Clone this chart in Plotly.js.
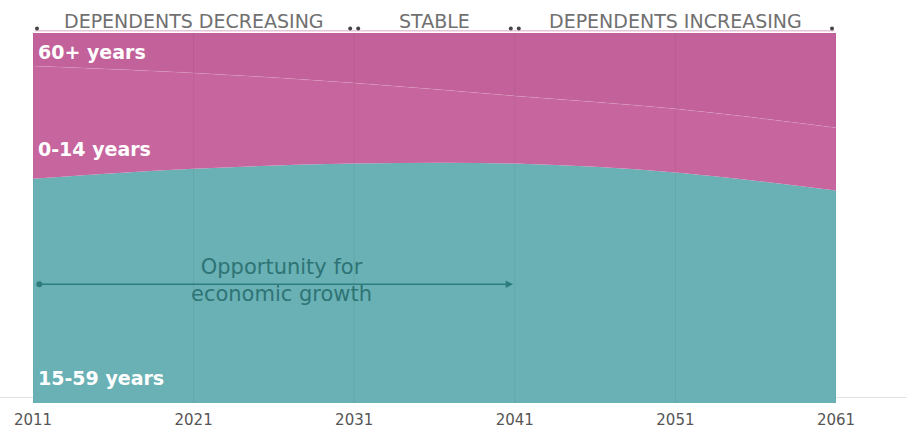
<!DOCTYPE html>
<html>
<head>
<meta charset="utf-8">
<script src="https://cdn.plot.ly/plotly-3.0.1.min.js"></script>
<style>html,body{margin:0;padding:0;background:#fff;}#chart{width:907px;height:432px;}</style>
</head>
<body>
<div id="chart"></div>
<script>
const years = [2011, 2021, 2031, 2041, 2051, 2061];
const working = [60.6, 63.3, 64.7, 64.7, 62.3, 57.4];   // 15-59 years (%)
const children = [30.5, 25.9, 21.8, 18.3, 17.2, 17.0];  // 0-14 years (%)
const elderly = [8.9, 10.8, 13.5, 17.0, 20.5, 25.6];    // 60+ years (%)
const tickLabels = ['2011', '2021', '2031', '2041', '2051', '2061'];
const phases = [
  {label: 'DEPENDENTS DECREASING', from: 2011, to: 2031},
  {label: 'STABLE', from: 2031, to: 2041},
  {label: 'DEPENDENTS INCREASING', from: 2041, to: 2061}
];

const teal = '#69b1b5', pink = '#c7659e', pinkDark = '#c2619a';
const FONT = '"DejaVu Sans", sans-serif';

const traces = [
  {x: years, y: working, name: '15-59 years', stackgroup: 'a', mode: 'lines',
   line: {width: 0, shape: 'spline', color: teal}, fillcolor: teal},
  {x: years, y: children, name: '0-14 years', stackgroup: 'a', mode: 'lines',
   line: {width: 0, shape: 'spline', color: pink}, fillcolor: pink},
  {x: years, y: elderly, name: '60+ years', stackgroup: 'a', mode: 'lines',
   line: {width: 0, shape: 'spline', color: pinkDark}, fillcolor: pinkDark}
];

// faint boundary line between 0-14 and 60+
const boundary = years.map((y, i) => working[i] + children[i]);
traces.push({x: years, y: boundary, mode: 'lines', hoverinfo: 'skip', showlegend: false,
  line: {width: 1, shape: 'spline', color: 'rgba(255,255,255,0.1)'}});

const shapes = [];
years.forEach(yr => {
  shapes.push({type: 'line', xref: 'x', yref: 'paper', x0: yr, x1: yr, y0: 0, y1: 1,
    line: {color: 'rgba(60,60,60,0.07)', width: 1}, layer: 'above'});
});
// base line
shapes.push({type: 'line', xref: 'paper', yref: 'paper', x0: -0.05, x1: 1.09, y0: 0.015, y1: 0.015,
  line: {color: '#e2e2e2', width: 1}, layer: 'below'});
// header line
shapes.push({type: 'line', xref: 'x', yref: 'paper', x0: 2011.1, x1: 2060.9, y0: 1.006, y1: 1.006,
  line: {color: '#e8c6da', width: 1.5}});
const dots = [];
phases.forEach(p => { dots.push({x: p.from, dx: 4}); dots.push({x: p.to, dx: -4}); });
dots.forEach(d => {
  shapes.push({type: 'circle', xref: 'x', yref: 'paper', xsizemode: 'pixel', ysizemode: 'pixel',
    xanchor: d.x, yanchor: 1.012, x0: d.dx - 2, x1: d.dx + 2, y0: -2, y1: 2,
    fillcolor: '#444', line: {width: 0}});
});

const annotations = [];
phases.forEach(p => {
  annotations.push({x: (p.from + p.to) / 2, y: 1.0, xref: 'x', yref: 'paper', yanchor: 'bottom', yshift: -1,
    text: p.label, showarrow: false, font: {family: FONT, size: 19, color: '#707070'}});
});
const lab = (t, y) => ({x: 2011, y: y, xref: 'x', yref: 'y', xanchor: 'left', xshift: 3, text: '<b>' + t + '</b>',
  showarrow: false, font: {family: FONT, size: 19, color: '#ffffff'}});
annotations.push(lab('60+ years', 95.0));
annotations.push(lab('0-14 years', 68.7));
annotations.push(lab('15-59 years', 6.7));
// arrow
annotations.push({x: 2040.9, y: 32.1, ax: 2011.3, ay: 32.1, xref: 'x', yref: 'y', axref: 'x', ayref: 'y',
  text: '', showarrow: true, arrowhead: 2, arrowsize: 1, arrowwidth: 1.5, arrowcolor: '#2f7c7d',
  arrowside: 'end+start', startarrowhead: 6, startarrowsize: 1});
annotations.push({x: 2026.5, y: 33.2, xref: 'x', yref: 'y', text: 'Opportunity for<br>economic growth',
  showarrow: false, font: {family: FONT, size: 21, color: '#2f7475'}});

const layout = {
  width: 907, height: 432,
  margin: {l: 33, r: 71, t: 33, b: 29},
  paper_bgcolor: '#ffffff', plot_bgcolor: '#ffffff',
  showlegend: false,
  xaxis: {range: [2011, 2061], tickvals: years, ticktext: tickLabels, showgrid: false, zeroline: false,
    showline: false, ticks: '', ticklabelstandoff: 6,
    tickfont: {family: FONT, size: 15, color: '#555'}},
  yaxis: {range: [0, 100], showgrid: false, zeroline: false, showticklabels: false, showline: false, ticks: ''},
  shapes: shapes, annotations: annotations
};

Plotly.newPlot('chart', traces, layout, {displayModeBar: false, staticPlot: true});
</script>
</body>
</html>
